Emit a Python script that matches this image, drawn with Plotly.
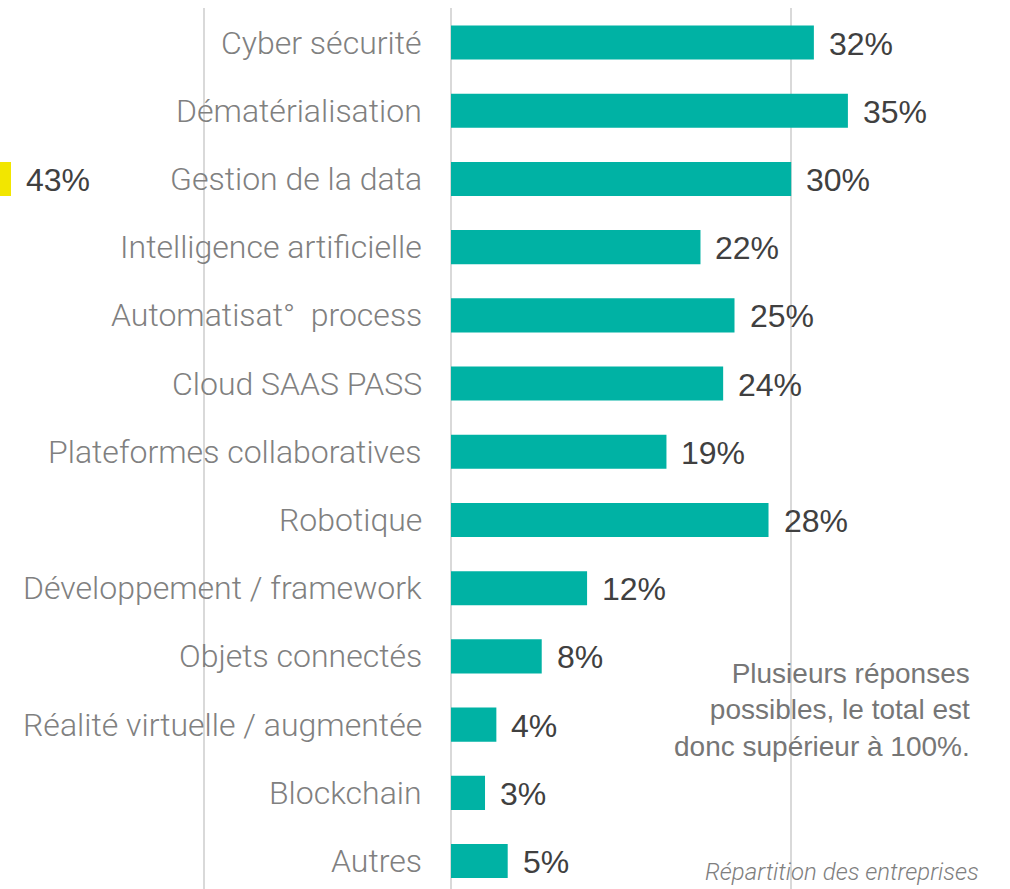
import plotly.graph_objects as go

categories = ["Cyber sécurité", "Dématérialisation", "Gestion de la data",
              "Intelligence artificielle", "Automatisat°  process", "Cloud SAAS PASS",
              "Plateformes collaboratives", "Robotique", "Développement / framework",
              "Objets connectés", "Réalité virtuelle / augmentée", "Blockchain", "Autres"]
values = [32, 35, 30, 22, 25, 24, 19, 28, 12, 8, 4, 3, 5]

# cropped bar from the neighbouring chart (only its end is visible)
other_category = "Gestion de la data"
other_value = 43

note = "Plusieurs réponses<br>possibles, le total est<br>donc supérieur à 100%."
source = "Répartition des entreprises"

TEAL = "#00B2A4"
YELLOW = "#F2E600"
px_per_unit = 11.34  # pixels per percent point
W, H = 1010, 889

fig = go.Figure()
fig.add_trace(go.Bar(x=values, y=categories, orientation="h", width=0.5,
                     marker=dict(color=TEAL, line=dict(width=0)),
                     hoverinfo="skip", showlegend=False))
fig.add_trace(go.Bar(x=[other_value], y=[other_category], orientation="h", width=0.5,
                     marker=dict(color=YELLOW, line=dict(width=0)),
                     xaxis="x2", hoverinfo="skip", showlegend=False))

val_font = dict(family="Liberation Sans, Arial", size=32, color="#404040")
light = "Roboto Light, Roboto"
ann = []
for c, v in zip(categories, values):
    ann.append(dict(x=v, y=c, xref="x", yref="y", text=f"{v}%", showarrow=False,
                    xanchor="left", xshift=13, yshift=-1, font=val_font))
    ann.append(dict(x=0, y=c, xref="x", yref="y", text=c, showarrow=False,
                    xanchor="right", xshift=-27,
                    font=dict(family=light, size=32, color="#808080", weight=300)))
ann.append(dict(x=other_value, y=other_category, xref="x2", yref="y", text=f"{other_value}%",
                showarrow=False, xanchor="left", xshift=13, yshift=-1, font=val_font))
ann.append(dict(x=972 / W, y=0.203, xref="paper", yref="paper", text=note, showarrow=False,
                xanchor="right", yanchor="middle", align="right",
                font=dict(family="Liberation Sans, Arial", size=28, color="#767676")))
ann.append(dict(x=981 / W, y=0.019, xref="paper", yref="paper", text=f"<i>{source}</i>",
                showarrow=False, xanchor="right", yanchor="middle",
                font=dict(family=light, size=24, color="#7F7F7F", weight=300)))

x0 = -451 / px_per_unit
x2_0 = other_value - 11 / px_per_unit

fig.update_layout(
    width=W, height=H,
    margin=dict(l=0, r=0, t=8, b=0),
    plot_bgcolor="white", paper_bgcolor="white",
    barmode="overlay",
    xaxis=dict(range=[x0, x0 + W / px_per_unit], tickvals=[-21.8, 0, 30],
               showticklabels=False, showgrid=True, gridcolor="#D9D9D9", gridwidth=2,
               zeroline=False, fixedrange=True),
    xaxis2=dict(range=[x2_0, x2_0 + W / px_per_unit], overlaying="x", visible=False,
                fixedrange=True),
    yaxis=dict(categoryorder="array", categoryarray=categories,
               range=[12.41, -0.506], autorange=False, showticklabels=False,
               showgrid=False, zeroline=False, fixedrange=True),
    annotations=ann,
)

fig.write_html("out.html", config={"displayModeBar": False},
               post_script="document.body.style.margin='0';")
